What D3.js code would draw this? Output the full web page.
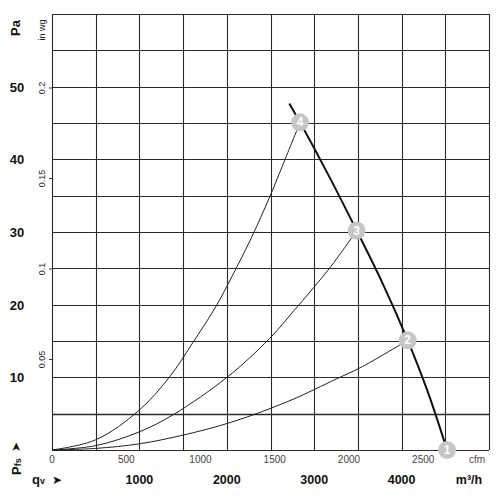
<!DOCTYPE html>
<html>
<head>
<meta charset="utf-8">
<script src="https://cdn.jsdelivr.net/npm/d3@7"></script>
<style>
  body { margin: 0; background: #fff; }
  text { font-family: "Liberation Sans", Arial, sans-serif; }
</style>
</head>
<body>
<div id="main"></div>
<script>
const W = 500;
const H = 500;

// axis ticks
var flowTicks = [1000, 2000, 3000, 4000];          // m3/h
var cfmTicks = [0, 500, 1000, 1500, 2000, 2500];   // cfm
var paTicks = [10, 20, 30, 40, 50];                // Pa
var inwgTicks = [0.05, 0.1, 0.15, 0.2];            // in wg

// fan curve [m3/h, Pa]
var fanCurve = [[2715, 47.7], [2838, 45.1], [3160, 37.9], [3486, 30.2], [3780, 23.0],
                [4070, 15.1], [4300, 8.0], [4520, 0]];

// system curves [m3/h, Pa]
var sysCurve2 = [[0, 0], [500, 0.22], [1000, 0.85], [1500, 2.05], [2059, 3.85], [2723, 6.8],
                 [3257, 9.8], [3524, 11.3], [4070, 15.1]];
var sysCurve3 = [[0, 0], [500, 0.6], [1000, 2.5], [1392, 4.9], [2002, 10], [2486, 15.3],
                 [2770, 19.2], [3181, 25.1], [3486, 30.2]];
var sysCurve4 = [[0, 0], [500, 1.4], [1000, 5.5], [1354, 10.2], [1602, 14.6], [1873, 19.7],
                 [2060, 23.9], [2285, 29.3], [2483, 34.6], [2640, 39.2], [2838, 45.1]];

// operating points
var opPoints = [
    {id: "1", q: 4520, p: 0},
    {id: "2", q: 4070, p: 15.1},
    {id: "3", q: 3486, p: 30.2},
    {id: "4", q: 2838, p: 45.1}
];

var ctx = {
    left: 52, right: 489, top: 14, bottom: 450,
    gridColor: "#2a2a2a",
    markerColor: "#c6c6c6"
};

var x = d3.scaleLinear().domain([0, 5000]).range([ctx.left, ctx.right]);
var xCfm = d3.scaleLinear().domain([0, 5000 / 1.699]).range([ctx.left, ctx.right]);
var y = d3.scaleLinear().domain([0, 60]).range([ctx.bottom, ctx.top]);
var yInwg = d3.scaleLinear().domain([0, 60 / 249.09]).range([ctx.bottom, ctx.top]);

var drawGrid = function(svg){
    var g = svg.append("g").attr("class", "grid");
    g.selectAll("line.v")
     .data(d3.range(0, 5001, 500))
     .enter().append("line")
     .attr("x1", d => Math.round(x(d)) + 0.5).attr("x2", d => Math.round(x(d)) + 0.5)
     .attr("y1", ctx.top).attr("y2", ctx.bottom)
     .style("stroke", ctx.gridColor).style("stroke-width", 1.1);
    g.selectAll("line.h")
     .data(d3.range(0, 61, 5))
     .enter().append("line")
     .attr("x1", ctx.left).attr("x2", ctx.right)
     .attr("y1", d => Math.round(y(d)) + 0.5).attr("y2", d => Math.round(y(d)) + 0.5)
     .style("stroke", ctx.gridColor)
     .style("stroke-width", d => d === 5 ? 1.6 : 1.1);
};

var drawAxes = function(svg){
    // Pa labels
    svg.selectAll("text.pa")
       .data(paTicks).enter().append("text")
       .attr("x", 17).attr("y", d => y(d) + 5)
       .attr("text-anchor", "middle")
       .style("font-size", "13px").style("font-weight", "bold").style("fill", "#111")
       .text(d => d);

    svg.append("text")
       .attr("transform", "translate(20,28) rotate(-90)")
       .attr("text-anchor", "middle")
       .style("font-size", "13px").style("font-weight", "bold").style("fill", "#111")
       .text("Pa");

    // in wg axis
    svg.append("text")
       .attr("transform", "translate(45,30) rotate(-90)")
       .attr("text-anchor", "middle")
       .style("font-size", "9px").style("fill", "#222")
       .text("in wg");

    svg.selectAll("line.inwg")
       .data(inwgTicks).enter().append("line")
       .attr("x1", ctx.left - 3).attr("x2", ctx.left)
       .attr("y1", d => yInwg(d)).attr("y2", d => yInwg(d))
       .style("stroke", "#333");

    svg.selectAll("text.inwg")
       .data(inwgTicks).enter().append("text")
       .attr("transform", d => "translate(45," + yInwg(d) + ") rotate(-90)")
       .attr("text-anchor", "middle")
       .style("font-size", "9px").style("fill", "#222")
       .text(d => d);

    // cfm labels
    svg.selectAll("text.cfm")
       .data(cfmTicks).enter().append("text")
       .attr("x", d => xCfm(d)).attr("y", 463)
       .attr("text-anchor", "middle")
       .style("font-size", "10px").style("fill", "#444")
       .text(d => d);

    svg.append("text")
       .attr("x", 477).attr("y", 463)
       .attr("text-anchor", "middle")
       .style("font-size", "10px").style("fill", "#5a4050")
       .text("cfm");

    // m3/h labels
    svg.selectAll("text.flow")
       .data(flowTicks).enter().append("text")
       .attr("x", d => x(d)).attr("y", 484)
       .attr("text-anchor", "middle")
       .style("font-size", "12.5px").style("font-weight", "bold").style("fill", "#111")
       .text(d => d);

    svg.append("text")
       .attr("x", 469).attr("y", 484)
       .attr("text-anchor", "middle")
       .style("font-size", "12.5px").style("font-weight", "bold").style("fill", "#111")
       .text("m³/h");

    // qv >
    var qv = svg.append("text")
       .attr("x", 32).attr("y", 484)
       .style("font-size", "13px").style("font-weight", "bold").style("fill", "#111");
    qv.append("tspan").text("q");
    qv.append("tspan").style("font-size", "9px").text("v");
    svg.append("text")
       .attr("x", 52).attr("y", 484)
       .style("font-family", "DejaVu Sans").style("font-size", "12px").style("fill", "#111")
       .text("➤");

    // Pfs >
    var pfs = svg.append("text")
       .attr("transform", "translate(21,475) rotate(-90)")
       .style("font-size", "13px").style("font-weight", "bold").style("fill", "#111");
    pfs.append("tspan").text("P");
    pfs.append("tspan").style("font-size", "9px").text("fs");
    svg.append("text")
       .attr("transform", "translate(20,452) rotate(-90)")
       .style("font-family", "DejaVu Sans").style("font-size", "12px").style("fill", "#111")
       .text("➤");
};

var drawCurves = function(svg){
    var line = d3.line()
                 .x(d => x(d[0]))
                 .y(d => y(d[1]))
                 .curve(d3.curveCatmullRom.alpha(0.5));

    svg.selectAll("path.sys")
       .data([sysCurve2, sysCurve3, sysCurve4])
       .enter().append("path")
       .attr("class", "sys")
       .attr("d", line)
       .style("fill", "none").style("stroke", "#222").style("stroke-width", 1);

    svg.append("path")
       .attr("d", line(fanCurve))
       .style("fill", "none").style("stroke", "#111").style("stroke-width", 2);

    var pts = svg.selectAll("g.op")
       .data(opPoints).enter().append("g")
       .attr("transform", d => "translate(" + x(d.q) + "," + y(d.p) + ")");
    pts.append("circle")
       .attr("r", 9)
       .style("fill", ctx.markerColor);
    pts.append("text")
       .attr("y", 4)
       .attr("text-anchor", "middle")
       .style("font-size", "12px").style("font-weight", "bold").style("fill", "#fff")
       .text(d => d.id);
};

var createViz = function(){
    var svgEl = d3.select("#main").append("svg")
                  .attr("width", W).attr("height", H);
    drawGrid(svgEl);
    drawAxes(svgEl);
    drawCurves(svgEl);
};

createViz();
</script>
</body>
</html>
